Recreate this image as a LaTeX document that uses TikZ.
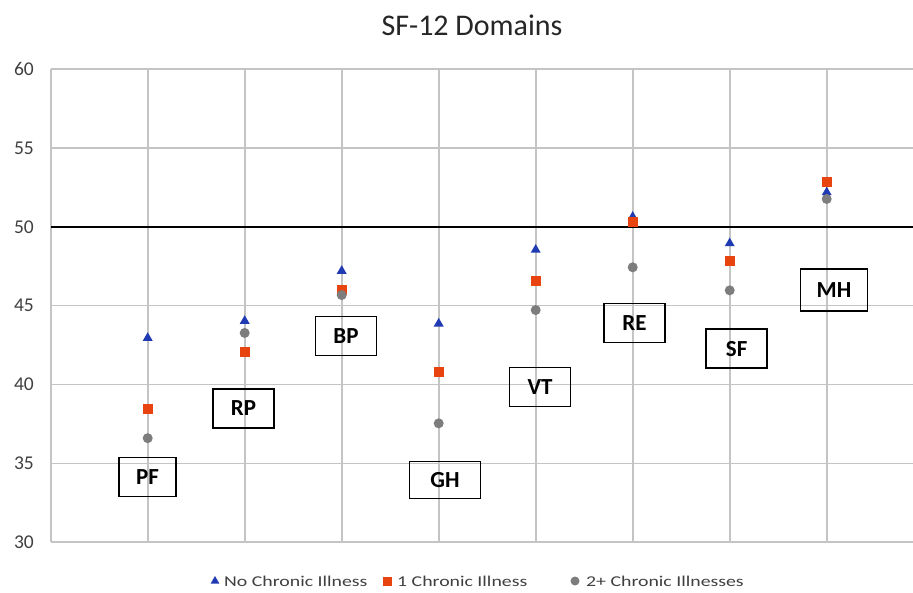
\documentclass[tikz,border=0pt]{standalone}
\usepackage{fontspec}
\setmainfont{Carlito}
\usetikzlibrary{shapes.geometric}
\definecolor{gridc}{RGB}{196,196,196}
\definecolor{tric}{RGB}{31,58,178}
\definecolor{sqc}{RGB}{232,68,16}
\definecolor{dotc}{RGB}{125,125,125}
\definecolor{tickc}{RGB}{64,64,64}
\begin{document}
\begin{tikzpicture}[x=1pt,y=-1pt,
  gridline/.style={draw=gridc, line width=1.7pt},
  mtri/.style={regular polygon, regular polygon sides=3, fill=tric, inner sep=0pt, minimum size=11.5pt},
  msq/.style={rectangle, fill=sqc, inner sep=0pt, minimum size=10pt},
  mdot/.style={circle, fill=dotc, inner sep=0pt, minimum size=10pt},
  dombox/.style={draw=black, line width=1.8pt, font=\fontsize{23}{23}\selectfont\bfseries, minimum height=39pt, inner sep=0pt},
  ticklab/.style={anchor=east, text=tickc, font=\fontsize{19.5}{20}\selectfont, inner sep=0pt},
  leglab/.style={anchor=west, text=tickc, font=\fontsize{15}{15}\selectfont, inner sep=0pt}]
\useasboundingbox (0,0) rectangle (913,592);
\fill[white] (0,0) rectangle (913,592);
% title
\node[anchor=base, font=\fontsize{30}{30}\selectfont, text=black!85] (title) at (472,35.5) {SF-12 Domains};
% horizontal grid
\foreach \v in {30,35,40,45,50,55,60} {
  \draw[gridline] (50.7,{1015.6-15.777*\v}) -- (913,{1015.6-15.777*\v});
}
% vertical grid
\foreach \k in {0,...,8} {
  \draw[gridline] ({50.7+97*\k},69) -- ({50.7+97*\k},542.3);
}
% reference line at 50
\draw[black, line width=2.2pt] (50.7,226.7) -- (913,226.7);
% tick labels
\foreach \v in {30,35,40,45,50,55,60} {
  \node[ticklab] (t\v) at (34,{1015.6-15.777*\v}) {\v};
}
% domain boxes
\node[dombox, minimum width=57pt] (bPF) at (147.5,477) {PF};
\node[dombox, minimum width=61pt] (bRP) at (243.5,408.5) {RP};
\node[dombox, minimum width=61pt] (bBP) at (346,336) {BP};
\node[dombox, minimum width=71pt, minimum height=37pt] (bGH) at (445,480) {GH};
\node[dombox, minimum width=61pt] (bVT) at (540,387) {VT};
\node[dombox, minimum width=61pt] (bRE) at (634.5,323) {RE};
\node[dombox, minimum width=61pt] (bSF) at (736.7,348.7) {SF};
\node[dombox, minimum width=67pt, minimum height=42pt] (bMH) at (834,290) {MH};
% data
\begin{scope}[shift={(50.7pt,-1015.6pt)}, x=97pt, y=15.777pt]
  \foreach \c/\a/\b/\d [count=\i] in {PF/42.95/38.45/36.6, RP/44.03/42.07/43.27, BP/47.2/45.99/45.67, GH/43.86/40.81/37.54, VT/48.54/46.57/44.72, RE/50.63/50.32/47.43, SF/48.95/47.83/45.97, MH/52.18/52.82/51.76} {
    \node[mtri] (n\c) at (\i,\a) {};
    \node[msq] (o\c) at (\i,\b) {};
    \node[mdot] (m\c) at (\i,\d) {};
  }
\end{scope}
% legend
\node[mtri, minimum size=10pt] (l1) at (215,581) {};
\node[leglab] (lt1) at (224,581) {\scalebox{1.32}[1]{No Chronic Illness}};
\node[msq, minimum size=9pt] (l2) at (387,581) {};
\node[leglab] (lt2) at (397,581) {\scalebox{1.32}[1]{1 Chronic Illness}};
\node[mdot, minimum size=9pt] (l3) at (575,581) {};
\node[leglab] (lt3) at (586,581) {\scalebox{1.32}[1]{2+ Chronic Illnesses}};
\end{tikzpicture}
\end{document}
